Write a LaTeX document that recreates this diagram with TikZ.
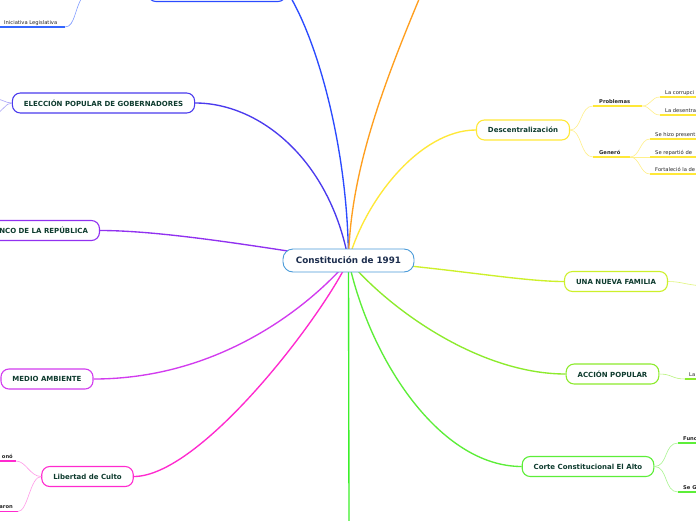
\documentclass[tikz,border=0pt]{standalone}
\usepackage{fontspec}
\setmainfont{DejaVu Sans}
\usetikzlibrary{backgrounds}
\pgfdeclarelayer{canvas}
\pgfsetlayers{canvas,background,main}
\definecolor{cCentral}{HTML}{4A9BD9}
\definecolor{cBlueTop}{HTML}{2B4BFF}
\definecolor{cIni}{HTML}{7F9BFF}
\definecolor{cIniU}{HTML}{3366FF}
\definecolor{cElec}{HTML}{4B3BEE}
\definecolor{cElecSub}{HTML}{A9A3F8}
\definecolor{cBanco}{HTML}{9131F0}
\definecolor{cMedio}{HTML}{D23BEF}
\definecolor{cLib}{HTML}{FF2ACF}
\definecolor{cLibSub}{HTML}{FF9AE8}
\definecolor{cGreen}{HTML}{3CF02A}
\definecolor{cCorte}{HTML}{5CEE38}
\definecolor{cCorteSub}{HTML}{A8F590}
\definecolor{cAccion}{HTML}{8CEB2C}
\definecolor{cAccionSub}{HTML}{B9F37D}
\definecolor{cFam}{HTML}{CDF02A}
\definecolor{cFamSub}{HTML}{E0F57A}
\definecolor{cDesc}{HTML}{FFE838}
\definecolor{cDescSub}{HTML}{FFF08A}
\definecolor{cOrange}{HTML}{FF9F1F}
\definecolor{txt}{HTML}{0E3B2E}
\definecolor{ctxt}{HTML}{1C2D4D}
\begin{document}
\begin{tikzpicture}[x=1pt,y=-1pt,
 mainbox/.style={draw, rounded corners=8pt, fill=white, line width=1.1pt, minimum height=20pt, inner xsep=11.5pt, inner ysep=0pt, font=\fontsize{7}{8}\selectfont\bfseries, text=txt},
 leaf/.style={font=\fontsize{5.2}{6}\selectfont, inner sep=0pt, anchor=base west, text=black!85},
 leafb/.style={leaf, font=\fontsize{5.2}{6}\selectfont\bfseries},
 conn/.style={line width=1.35pt},
 sub/.style={line width=0.6pt},
 uline/.style={line width=1.3pt}]
\useasboundingbox (0,0) rectangle (696,520);
\begin{pgfonlayer}{canvas}
\fill[white] (0,0) rectangle (696,520);
\end{pgfonlayer}

% main nodes
\node[mainbox, draw=cCentral, line width=0.9pt, minimum width=131pt, minimum height=23pt, rounded corners=10pt, font=\fontsize{8.8}{10}\selectfont\bfseries, text=ctxt] (c) at (348.5,260.5) {Constitución de 1991};
\node[mainbox, draw=cBlueTop, minimum width=138pt, minimum height=22pt] (top) at (217,-9.5) {};
\node[mainbox, draw=cElec] (elec) at (103.5,103) {ELECCIÓN POPULAR DE GOBERNADORES};
\node[mainbox, draw=cBanco, anchor=east] (banco) at (100,230.5) {BANCO DE LA REPÚBLICA};
\node[mainbox, draw=cMedio] (medio) at (47,379) {MEDIO AMBIENTE};
\node[mainbox, draw=cLib] (lib) at (87.5,476.5) {Libertad de Culto};
\node[mainbox, draw=cCorte] (corte) at (588,466.5) {Corte Constitucional El Alto};
\node[mainbox, draw=cAccion] (accion) at (612.5,374) {ACCIÓN POPULAR};
\node[mainbox, draw=cFam] (fam) at (616,281.5) {UNA NUEVA FAMILIA};
\node[mainbox, draw=cDesc] (desc) at (523,130) {Descentralización};

\coordinate (oEnd) at (425,-15);
\coordinate (gEnd) at (349,525);

\begin{scope}[on background layer]
\draw[conn, cBlueTop] (c.center) .. controls (348,150) and (318,40) .. (top.east);
\draw[conn, cOrange] (c.center) .. controls (350,170) and (385,80) .. (oEnd);
\draw[conn, cElec] (c.center) .. controls (330,160) and (260,103) .. (elec.east);
\draw[conn, cBanco] (c.center) .. controls (250,245) and (160,230.5) .. (banco.east);
\draw[conn, cMedio] (c.center) .. controls (315,300) and (225,379) .. (medio.east);
\draw[conn, cLib] (c.center) .. controls (320,320) and (200,476.5) .. (lib.east);
\draw[conn, cGreen] (c.center) -- (gEnd);
\draw[conn, cCorte] (c.center) .. controls (370,360) and (440,466.5) .. (corte.west);
\draw[conn, cAccion] (c.center) .. controls (390,310) and (480,374) .. (accion.west);
\draw[conn, cFam] (c.center) .. controls (450,268) and (520,281.5) .. (fam.west);
\draw[conn, cDesc] (c.center) .. controls (365,200) and (420,130) .. (desc.west);
\end{scope}

% Iniciativa Legislativa
\coordinate (iniA) at (-2,27);
\coordinate (iniB) at (65,27);
\coordinate (iniEnd) at (86,-8);
\draw[uline, cIniU] (iniA) -- (iniB);
\node[leaf] (ini) at (4,24.5) {Iniciativa Legislativa};
\draw[sub, cIni] (iniB) .. controls (76,27) and (74,5) .. (iniEnd);

% Eleccion left stubs
\coordinate (el1) at (-5,99);
\coordinate (el2) at (-5,114);
\draw[sub, cElecSub] (elec.west) .. controls (5,103) and (3,99) .. (el1);
\draw[sub, cElecSub] (elec.west) .. controls (5,103) and (3,112) .. (el2);

% Descentralizacion children
\coordinate (pA) at (593,106);
\coordinate (pB) at (642,106);
\draw[uline, cDesc] (pA) -- (pB);
\node[leafb] (prob) at (599,103.5) {Problemas};
\draw[sub, cDescSub] (desc.east) .. controls (582,130) and (580,106) .. (pA);
\coordinate (pc1A) at (660,97);
\coordinate (pc1B) at (700,97);
\coordinate (pc2A) at (660,115);
\coordinate (pc2B) at (700,115);
\draw[uline, cDesc] (pc1A) -- (pc1B);
\draw[uline, cDesc] (pc2A) -- (pc2B);
\node[leaf] (pc1) at (665,94.5) {La corrupci};
\node[leaf] (pc2) at (665,112.5) {La desentra};
\draw[sub, cDescSub] (pB) .. controls (651,106) and (651,97) .. (pc1A);
\draw[sub, cDescSub] (pB) .. controls (651,106) and (651,115) .. (pc2A);

\coordinate (gA) at (593,157);
\coordinate (gB) at (630,157);
\draw[uline, cDesc] (gA) -- (gB);
\node[leafb] (gen) at (599,154.5) {Generó};
\draw[sub, cDescSub] (desc.east) .. controls (582,130) and (580,157) .. (gA);
\coordinate (g1A) at (650,139);
\coordinate (g1B) at (700,139);
\coordinate (g2A) at (650,157);
\coordinate (g2B) at (700,157);
\coordinate (g3A) at (650,174);
\coordinate (g3B) at (700,174);
\draw[uline, cDesc] (g1A) -- (g1B);
\draw[uline, cDesc] (g2A) -- (g2B);
\draw[uline, cDesc] (g3A) -- (g3B);
\node[leaf] (g1) at (655,136.5) {Se hizo present};
\node[leaf] (g2) at (655,154.5) {Se repartió de};
\node[leaf] (g3) at (655,171.5) {Fortaleció la de};
\draw[sub, cDescSub] (gB) .. controls (640,157) and (640,139) .. (g1A);
\draw[sub, cDescSub] (gB) -- (g2A);
\draw[sub, cDescSub] (gB) .. controls (640,157) and (640,174) .. (g3A);

% Una nueva familia child
\coordinate (famEnd) at (705,286);
\draw[sub, cFamSub] (fam.east) .. controls (682,281.5) and (685,285) .. (famEnd);

% Accion popular child
\coordinate (aA) at (685,379);
\coordinate (aB) at (700,379);
\draw[uline, cAccion] (aA) -- (aB);
\node[leaf] (a1) at (689,376.5) {La};
\draw[sub, cAccionSub] (accion.east) .. controls (672,374) and (672,379) .. (aA);

% Corte children
\coordinate (cf1A) at (678,443);
\coordinate (cf1B) at (700,443);
\coordinate (cf2A) at (678,492);
\coordinate (cf2B) at (700,492);
\draw[uline, cCorte] (cf1A) -- (cf1B);
\draw[uline, cCorte] (cf2A) -- (cf2B);
\node[leafb] (cf1) at (683,440.5) {Func};
\node[leafb] (cf2) at (683,489.5) {Se G};
\draw[sub, cCorteSub] (corte.east) .. controls (668,466.5) and (664,443) .. (cf1A);
\draw[sub, cCorteSub] (corte.east) .. controls (668,466.5) and (664,492) .. (cf2A);

% Libertad children
\coordinate (l1A) at (-3,461);
\coordinate (l1B) at (16,461);
\coordinate (l2A) at (-3,511.5);
\coordinate (l2B) at (18,511.5);
\draw[uline, cLib] (l1A) -- (l1B);
\draw[uline, cLib] (l2A) -- (l2B);
\node[leafb, anchor=base east] (l1) at (13,458) {onó};
\node[leafb, anchor=base east] (l2) at (13,508.5) {aron};
\draw[sub, cLibSub] (lib.west) .. controls (30,476.5) and (26,461) .. (l1B);
\draw[sub, cLibSub] (lib.west) .. controls (30,476.5) and (28,511.5) .. (l2B);
\end{tikzpicture}
\end{document}
